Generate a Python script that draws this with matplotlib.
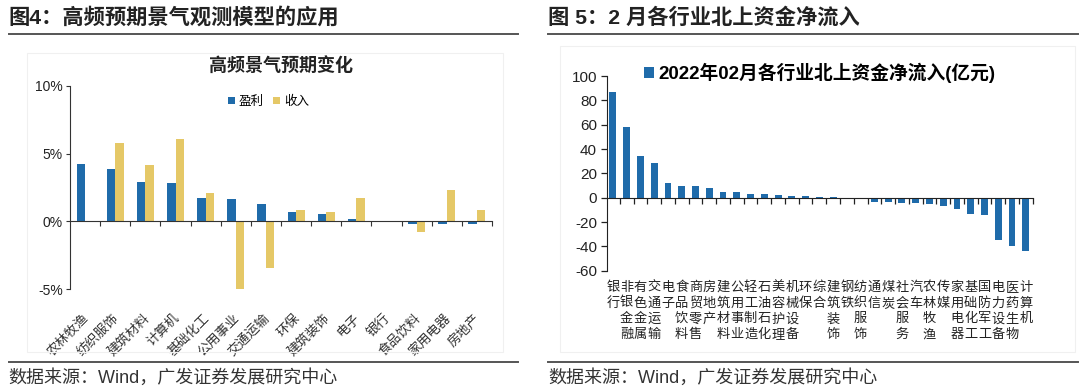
import matplotlib
matplotlib.use("Agg")
import matplotlib.pyplot as plt
from matplotlib.lines import Line2D
from matplotlib.patches import Rectangle

CJK = 'Noto Sans CJK SC'
MIX = ['Liberation Sans', 'Noto Sans CJK SC']
plt.rcParams['font.family'] = [CJK, 'DejaVu Sans']

# ---------------- data ----------------
left_categories = ['农林牧渔', '纺织服饰', '建筑材料', '计算机', '基础化工', '公用事业', '交通运输',
                   '环保', '建筑装饰', '电子', '银行', '食品饮料', '家用电器', '房地产']
profit = [4.26, 3.85, 2.94, 2.84, 1.72, 1.62, 1.25, 0.69, 0.54, 0.17, 0.02, -0.18, -0.18, -0.18]
revenue = [-0.05, 5.76, 4.17, 6.05, 2.13, -5.02, -3.40, 0.83, 0.66, 1.69, 0.05, -0.76, 2.33, 0.83]
left_yticks = [-5, 0, 5, 10]
left_yticklabels = ['-5%', '0%', '5%', '10%']

right_categories = ['银行', '非银金融', '有色金属', '交通运输', '电子', '食品饮料', '商贸零售', '房地产',
                    '建筑材料', '公用事业', '轻工制造', '石油石化', '美容护理', '机械设备', '环保', '综合',
                    '建筑装饰', '钢铁', '纺织服饰', '通信', '煤炭', '社会服务', '汽车', '农林牧渔', '传媒',
                    '家用电器', '基础化工', '国防军工', '电力设备', '医药生物', '计算机']
net_inflow = [87, 58.5, 34, 28.5, 12, 10, 9.5, 7.8, 5, 5, 3.2, 3, 2, 1.2, 1, 0.3, 0.2, 0.1,
              -0.8, -3.5, -3.5, -4.3, -4.3, -5, -7, -9.2, -13.1, -14.5, -35, -39.4, -43.9]
right_yticks = [-60, -40, -20, 0, 20, 40, 60, 80, 100]

BLUE = '#1F6BAA'
YELLOW = '#E5C867'
W, H = 1080, 392

fig = plt.figure(figsize=(W / 100, H / 100), dpi=100)


def fx(px):
    return px / W


def fy(py):
    return 1 - py / H


# ---------------- headers / footers ----------------
fig.text(fx(8), fy(17), '图4：高频预期景气观测模型的应用', fontsize=15.3, fontweight='bold',
         family=MIX, color='#222222', va='center', ha='left')
fig.text(fx(548), fy(17), '图 5：2 月各行业北上资金净流入', fontsize=15.3, fontweight='bold',
         family=MIX, color='#222222', va='center', ha='left')
for x0, x1, y in [(9, 518, 34), (548, 1078, 34), (9, 518, 362), (548, 1078, 362)]:
    fig.add_artist(Line2D([fx(x0), fx(x1)], [fy(y), fy(y)], color='#555555', lw=1.4))
fig.text(fx(8), fy(378), '数据来源：Wind，广发证券发展研究中心', fontsize=13,
         family=MIX, color='#333333', va='center', ha='left')
fig.text(fx(548), fy(378), '数据来源：Wind，广发证券发展研究中心', fontsize=13,
         family=MIX, color='#333333', va='center', ha='left')

# faint chart boxes
fig.add_artist(Rectangle((fx(27), fy(352)), fx(503 - 27), fy(53) - fy(352), fill=False,
                         edgecolor='#f0f0f0', lw=0.8))
fig.add_artist(Rectangle((fx(560), fy(352)), fx(1075 - 560), fy(46) - fy(352), fill=False,
                         edgecolor='#f0f0f0', lw=0.8))

# ---------------- left chart ----------------
axl = fig.add_axes([fx(70), fy(289.3), fx(492 - 70), fy(85.7) - fy(289.3)])
n = len(left_categories)
xs = list(range(n))
bw = 0.28
axl.bar([x - bw / 2 for x in xs], profit, width=bw, color=BLUE, label='盈利', zorder=2)
axl.bar([x + bw / 2 for x in xs], revenue, width=bw, color=YELLOW, label='收入', zorder=2)
axl.set_xlim(-0.5, n - 0.5)
axl.set_ylim(-5, 10)
axl.set_yticks(left_yticks)
axl.set_yticklabels(left_yticklabels, family='Liberation Sans', fontsize=10, color='#222222')
axl.spines['top'].set_visible(False)
axl.spines['right'].set_visible(False)
axl.spines['bottom'].set_position(('data', 0))
axl.spines['bottom'].set_color('#333333')
axl.spines['left'].set_color('#333333')
axl.set_xticks([i + 0.5 for i in range(n)])
axl.set_xticklabels([])
axl.tick_params(axis='x', direction='out', length=3.5, color='#333333', width=0.8)
axl.tick_params(axis='y', direction='out', length=3, color='#333333', width=0.8, pad=2)
for i, lab in enumerate(left_categories):
    axl.annotate(lab, xy=(i, 0), xycoords=('data', 'axes fraction'), xytext=(-2, -16),
                 textcoords='offset points', rotation=45, rotation_mode='anchor',
                 ha='right', va='top', fontsize=9.5, color='#333333')
axl.set_title('高频景气预期变化', fontsize=13, fontweight='bold', color='#222222', pad=11)
leg = axl.legend(loc='upper center', bbox_to_anchor=(0.47, 1.01), ncol=2, frameon=False,
                 fontsize=9, handlelength=0.55, handleheight=0.55, handletextpad=0.3,
                 columnspacing=0.8)

# ---------------- right chart ----------------
axr = fig.add_axes([fx(606.7), fy(270.6), fx(1032.7 - 606.7), fy(76.2) - fy(270.6)])
m = len(right_categories)
xr = list(range(m))
axr.bar(xr, net_inflow, width=0.5, color=BLUE, label='2022年02月各行业北上资金净流入(亿元)', zorder=2)
axr.set_xlim(-0.45, m - 0.5)
axr.set_ylim(-60, 100)
axr.set_yticks(right_yticks)
axr.set_yticklabels([str(v) for v in right_yticks], family='Liberation Sans', fontsize=11,
                    color='#222222')
axr.spines['top'].set_visible(False)
axr.spines['right'].set_visible(False)
axr.spines['bottom'].set_position(('data', 0))
axr.spines['bottom'].set_color('#222222')
axr.spines['left'].set_color('#222222')
axr.set_xticks([i + 0.5 for i in range(m)])
axr.set_xticklabels([])
axr.tick_params(axis='x', direction='out', length=4, color='#222222', width=0.9)
axr.tick_params(axis='y', direction='out', length=4, color='#222222', width=0.9, pad=3)
for i, lab in enumerate(right_categories):
    axr.annotate('\n'.join(lab), xy=(i, 0), xycoords=('data', 'axes fraction'), xytext=(0, -7.5),
                 textcoords='offset points', ha='center', va='top', fontsize=9.5,
                 linespacing=1.27, color='#222222')
axr.legend(loc='upper center', bbox_to_anchor=(0.5, 1.155), frameon=False,
           prop={'family': MIX, 'weight': 'bold', 'size': 13.5},
           handlelength=0.55, handleheight=0.55, handletextpad=0.2)

fig.savefig('out.png', dpi=100)
